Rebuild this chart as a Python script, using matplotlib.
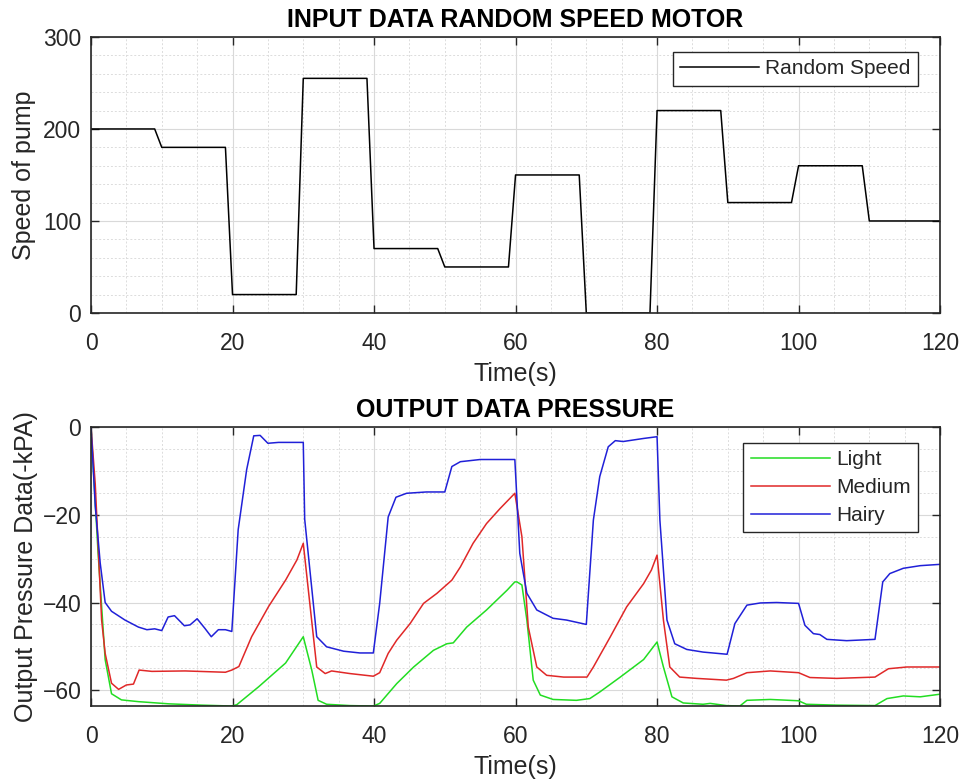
import numpy as np
import matplotlib.pyplot as plt
from matplotlib.ticker import MultipleLocator

plt.rcParams['font.family'] = ['Liberation Sans', 'DejaVu Sans']

# input speed profile (breakpoints)
t_speed = [0, 9, 10, 19, 20, 29, 30, 39, 40, 49, 50, 59, 60, 69, 70, 79, 80, 89,
           90, 99, 100, 109, 110, 120]
speed = [200, 200, 180, 180, 20, 20, 255, 255, 70, 70, 50, 50, 150, 150, 0, 0,
         220, 220, 120, 120, 160, 160, 100, 100]

# output pressure
t_light = [0, 1, 2, 2.9, 4.3, 6.7, 11, 15.7, 19.9, 20.6, 23.7, 27.5, 30, 31.2, 32.1,
           33.3, 36.6, 39.9, 40.8, 43.2, 45.6, 48.4, 50.3, 51.2, 53.1, 55.9, 58.8,
           59.9, 60.2, 60.9, 61.6, 62.5, 63.5, 65.3, 68.6, 70.5, 71.9, 74.8, 78.1,
           80, 80.9, 82.1, 83.7, 86.5, 87.5, 89.8, 91.7, 92.7, 96, 100, 101.1,
           105.4, 110.8, 112.5, 114.8, 117.2, 120]
light = [0, -28.7, -53, -60.8, -62.2, -62.6, -63.1, -63.4, -63.6, -63.3, -59.2,
         -53.8, -47.8, -55.4, -62.3, -63.2, -63.5, -63.6, -63, -58.5, -54.7, -50.9,
         -49.4, -49.2, -45.6, -41.7, -37.2, -35.3, -35.3, -36, -44, -57.7, -61.1,
         -62.1, -62.3, -61.9, -60.4, -57, -53, -49, -54.7, -61.5, -62.9, -63.2,
         -63, -63.5, -63.6, -62.3, -62.1, -62.4, -63.2, -63.4, -63.5, -61.9,
         -61.3, -61.5, -60.9]

t_medium = [0, 0.6, 1.5, 2, 2.9, 3.9, 5, 6, 6.8, 8.6, 13.3, 19, 19.9, 20.9, 22.7,
            25.1, 27.5, 29.1, 30, 31.9, 33.1, 34, 36.6, 39.9, 40.8, 42, 43.2, 45.1,
            47, 48.9, 51, 52.2, 54, 55.9, 57.8, 59.9, 60.9, 61.8, 63, 64.4, 66.8,
            70.1, 71, 73.4, 75.7, 78.1, 79.2, 80, 80.9, 81.8, 83.2, 85.6, 89.8,
            90.8, 92.7, 96, 100, 101.6, 105.4, 110.8, 112.7, 115.3, 120]
medium = [0, -13, -44, -51.6, -58.4, -59.8, -58.8, -58.6, -55.4, -55.7, -55.6,
          -55.9, -55.4, -54.6, -47.8, -40.9, -34.9, -30.3, -26.5, -54.7, -56.2,
          -55.6, -56.2, -56.8, -56, -51.6, -48.6, -44.8, -40.2, -37.9, -34.9,
          -31.9, -26.5, -22, -18.6, -15.1, -25, -45.6, -54.7, -56.6, -57, -57,
          -54.7, -47.8, -41, -35.7, -32.6, -29.2, -44, -54.7, -57, -57.3, -57.7,
          -57.3, -56, -55.6, -56, -57.1, -57.3, -57, -55.1, -54.7, -54.7]

t_hairy = [0, 0.6, 1.3, 2, 2.9, 4.8, 6.7, 7.9, 9, 10, 10.9, 11.8, 13.2, 14, 15, 16.1,
           17, 18, 19, 19.9, 20.8, 22, 23, 23.9, 25, 26.5, 30, 30.2, 31.9, 33.3,
           35.7, 38, 39.9, 40.8, 42, 43.1, 44.6, 47.4, 50, 51, 52.2, 55, 59.9,
           60.6, 61.6, 63, 65.3, 67.2, 70, 71, 71.9, 73.1, 74.1, 75.2, 78.1, 80,
           80.4, 81.4, 82.5, 84.2, 86.5, 89.9, 91, 92.7, 94.6, 96.9, 100, 100.9,
           102.1, 103, 104, 106.8, 110.8, 111.9, 112.9, 114.8, 117.2, 120]
hairy = [0, -18, -31, -40, -42, -44, -45.6, -46.2, -46, -46.4, -43.3, -43, -45.3,
         -45.1, -43.7, -45.9, -47.8, -46.2, -46.2, -46.6, -23.4, -9.7, -2, -1.9,
         -3.7, -3.5, -3.5, -21, -47.8, -50.1, -51.1, -51.5, -51.5, -40.2, -20.5,
         -16, -15.1, -14.8, -14.8, -9, -7.9, -7.4, -7.4, -28.8, -37.9, -41.7,
         -43.6, -44, -45, -21.2, -11.3, -4.5, -3.1, -3.3, -2.6, -2.2, -21.2, -44,
         -49.4, -50.7, -51.3, -51.8, -44.8, -40.6, -40.1, -40, -40.2, -45.2,
         -47.1, -47.3, -48.4, -48.7, -48.4, -35.3, -33.4, -32.2, -31.6, -31.3]

DARK = '#262626'


def style_axes(ax, ymin, ymax, ymajor, yminor):
    ax.set_xlim(0, 120)
    ax.set_ylim(ymin, ymax)
    ax.xaxis.set_major_locator(MultipleLocator(20))
    ax.xaxis.set_minor_locator(MultipleLocator(5))
    ax.yaxis.set_major_locator(MultipleLocator(ymajor))
    ax.yaxis.set_minor_locator(MultipleLocator(yminor))
    ax.grid(True, which='major', color='#d9d9d9', lw=0.8)
    ax.grid(True, which='minor', color='#dcdcdc', lw=0.7, ls=(0, (2, 2)))
    ax.set_axisbelow(True)
    ax.tick_params(which='both', direction='in', top=True, right=True,
                   labelsize=16.5, colors=DARK)
    ax.tick_params(axis='x', pad=14)
    ax.tick_params(axis='y', pad=7)
    ax.tick_params(which='major', length=6, width=1)
    ax.tick_params(which='minor', length=0)
    for s in ax.spines.values():
        s.set_color(DARK)
        s.set_linewidth(1.2)


def add_legend(ax, top, spacing):
    leg = ax.legend(loc='upper right', bbox_to_anchor=(0.974, top), borderaxespad=0,
                    fontsize=15, fancybox=False, edgecolor=DARK, framealpha=1,
                    handlelength=3.8, handletextpad=0.3, borderpad=0.35,
                    labelspacing=spacing)
    leg.get_frame().set_linewidth(1.0)
    for txt in leg.get_texts():
        txt.set_color(DARK)


fig = plt.figure(figsize=(9.63, 7.83), dpi=100)
ax1 = fig.add_axes([0.0945, 0.6003, 0.8817, 0.3525])
ax2 = fig.add_axes([0.0945, 0.0983, 0.8817, 0.3563])

ax1.plot(t_speed, speed, color='black', lw=1.1, label='Random Speed')
style_axes(ax1, 0, 300, 100, 20)
ax1.set_xlabel('Time(s)', fontsize=18, color=DARK, labelpad=5)
ax1.set_ylabel('Speed of pump', fontsize=18, color=DARK, labelpad=5)
ax1.set_title('INPUT DATA RANDOM SPEED MOTOR', fontsize=18, fontweight='bold', pad=7)
add_legend(ax1, 0.9457, 0.2)

ax2.plot(t_light, light, color='#22dd22', lw=1.1, label='Light')
ax2.plot(t_medium, medium, color='#e02828', lw=1.1, label='Medium')
ax2.plot(t_hairy, hairy, color='#2020d8', lw=1.1, label='Hairy')
style_axes(ax2, -63.6, 0, 20, 5)
ax2.set_xlabel('Time(s)', fontsize=18, color=DARK, labelpad=5)
ax2.set_ylabel('Output Pressure Data(-kPA)', fontsize=18, color=DARK, labelpad=3)
ax2.set_title('OUTPUT DATA PRESSURE', fontsize=18, fontweight='bold', pad=7)
add_legend(ax2, 0.9427, 0.42)

fig.savefig('out.png', dpi=100)
